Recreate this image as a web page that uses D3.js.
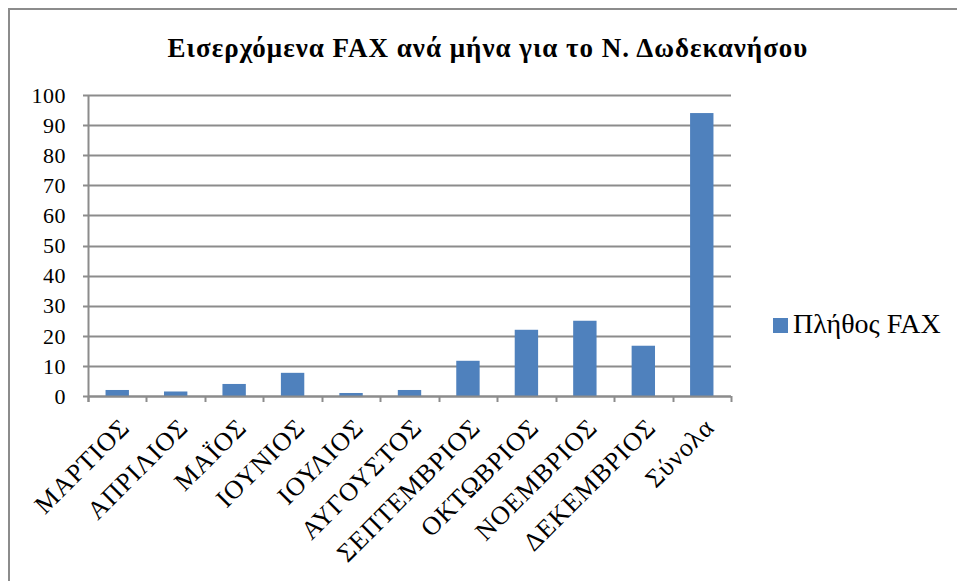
<!DOCTYPE html>
<html lang="el">
<head>
    <meta charset="UTF-8">
    <title>Εισερχόμενα FAX</title>
    <style>
        body {
            margin: 0;
            padding: 0;
            background-color: #ffffff;
        }
        svg text {
            fill: #000000;
            font-family: 'Liberation Serif', 'DejaVu Serif', serif;
        }
    </style>
</head>
<body>
    <svg id="chart" width="957" height="581"></svg>
    <script src="https://d3js.org/d3.v7.min.js"></script>
    <script>
        const months = ["ΜΑΡΤΙΟΣ", "ΑΠΡΙΛΙΟΣ", "ΜΑΪΟΣ", "ΙΟΥΝΙΟΣ", "ΙΟΥΛΙΟΣ", "ΑΥΓΟΥΣΤΟΣ",
            "ΣΕΠΤΕΜΒΡΙΟΣ", "ΟΚΤΩΒΡΙΟΣ", "ΝΟΕΜΒΡΙΟΣ", "ΔΕΚΕΜΒΡΙΟΣ", "Σύνολα"];
        const faxCounts = [2, 1.5, 4, 7.7, 1, 2, 11.7, 22, 25, 16.7, 94];
        const yTicks = [0, 10, 20, 30, 40, 50, 60, 70, 80, 90, 100];
        const seriesName = "Πλήθος FAX";
        const chartTitle = "Εισερχόμενα FAX ανά μήνα για το Ν. Δωδεκανήσου";

        const svg = d3.select("#chart");
        const margin = {top: 95, right: 226, bottom: 185, left: 88};
        const width = 957 - margin.left - margin.right;
        const height = 581 - margin.top - margin.bottom;

        // outer chart border (only top and left visible)
        svg.append("path")
            .attr("d", "M9,581 L9,9 L957,9")
            .attr("fill", "none")
            .attr("stroke", "#8c8c8c")
            .attr("stroke-width", 2);

        svg.append("text")
            .attr("x", 488)
            .attr("y", 57)
            .attr("text-anchor", "middle")
            .attr("font-size", "27px")
            .attr("font-weight", "bold")
            .attr("letter-spacing", "1px")
            .text(chartTitle);

        const chart = svg.append("g").attr("transform", `translate(${margin.left}, ${margin.top})`);

        const x = d3.scaleBand().domain(months).range([0, width]).paddingInner(0.6).paddingOuter(0.3);
        const y = d3.scaleLinear().domain([0, 100]).range([height, 0]);

        // gridlines
        chart.append("g")
            .selectAll("line")
            .data(yTicks)
            .enter()
            .append("line")
            .attr("x1", -5)
            .attr("x2", width)
            .attr("y1", d => Math.round(y(d)) + 0.5)
            .attr("y2", d => Math.round(y(d)) + 0.5)
            .attr("stroke", "#8c8c8c")
            .attr("stroke-width", 2);

        // y labels
        chart.append("g")
            .selectAll("text")
            .data(yTicks)
            .enter()
            .append("text")
            .attr("x", -22)
            .attr("y", d => y(d))
            .attr("dy", "0.35em")
            .attr("text-anchor", "end")
            .attr("font-size", "22px")
            .attr("letter-spacing", "0.5px")
            .text(d => d);

        // bars
        chart.selectAll("rect")
            .data(faxCounts)
            .enter()
            .append("rect")
            .attr("x", (d, i) => x(months[i]))
            .attr("y", d => y(d))
            .attr("width", x.bandwidth())
            .attr("height", d => height - y(d))
            .attr("fill", "#4f81bd");

        // x axis line and ticks
        const step = width / months.length;
        chart.append("line")
            .attr("x1", 0).attr("x2", width)
            .attr("y1", height + 0.5).attr("y2", height + 0.5)
            .attr("stroke", "#8c8c8c").attr("stroke-width", 2);
        chart.append("line")
            .attr("x1", 0.5).attr("x2", 0.5)
            .attr("y1", 0).attr("y2", height + 6)
            .attr("stroke", "#8c8c8c").attr("stroke-width", 2);
        chart.append("g")
            .selectAll("line")
            .data(d3.range(months.length + 1))
            .enter()
            .append("line")
            .attr("x1", i => Math.round(i * step) + 0.5)
            .attr("x2", i => Math.round(i * step) + 0.5)
            .attr("y1", height)
            .attr("y2", height + 6)
            .attr("stroke", "#8c8c8c")
            .attr("stroke-width", 2);

        // x labels rotated
        chart.append("g")
            .selectAll("text")
            .data(months)
            .enter()
            .append("text")
            .attr("transform", d => `translate(${x(d) + x.bandwidth() / 2 + 14}, ${height + 33}) rotate(-45)`)
            .attr("text-anchor", "end")
            .attr("font-size", "26px")
            .attr("letter-spacing", "1px")
            .text(d => d);

        // legend
        const legend = svg.append("g").attr("transform", "translate(773, 318)");
        legend.append("rect")
            .attr("width", 15)
            .attr("height", 15)
            .attr("fill", "#4f81bd");
        legend.append("text")
            .attr("x", 20)
            .attr("y", 15)
            .attr("font-size", "28px")
            .text(seriesName);
    </script>
</body>
</html>
